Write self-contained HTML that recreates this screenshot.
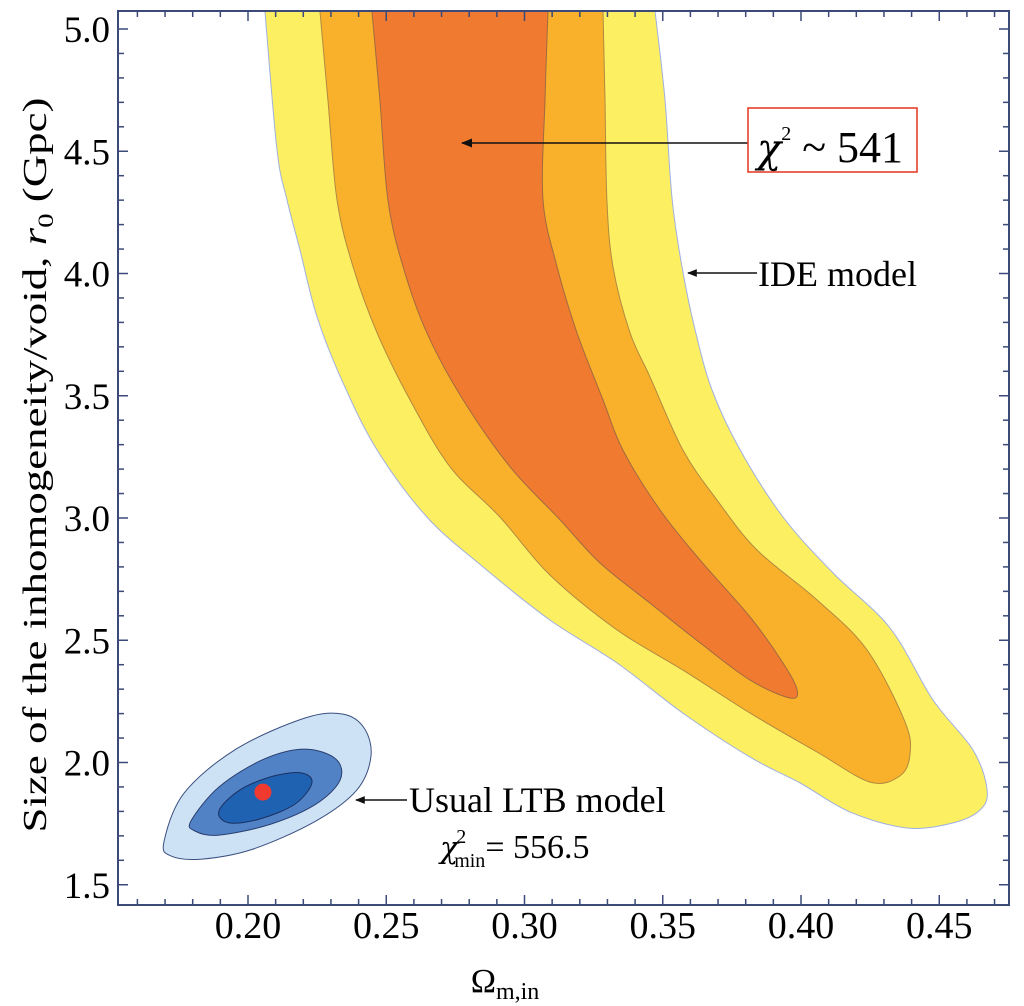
<!DOCTYPE html>
<html><head><meta charset="utf-8">
<style>
html,body{margin:0;padding:0;background:#fff;}
svg{display:block;font-family:"Liberation Serif",serif;}
.gk{font-family:"DejaVu Serif",serif;font-style:italic;}
</style></head>
<body>
<svg id="chart" width="1024" height="1006" viewBox="0 0 1024 1006" xmlns="http://www.w3.org/2000/svg">
<defs>
<marker id="ah" viewBox="0 0 10 10" refX="9" refY="5" markerWidth="7" markerHeight="7" orient="auto-start-reverse"><path d="M0,1 L10,5 L0,9 z" fill="#111"/></marker>
</defs>
<g id="contours"></g>
<g id="axes"></g>
<g>
<line x1="748" y1="143" x2="462" y2="143" stroke="#111" stroke-width="1.6" marker-end="url(#ah)"/>
<rect x="748" y="108" width="169" height="64" fill="#fff" stroke="#e8402e" stroke-width="1.6"/>
<text x="757" y="162" font-size="44"><tspan class="gk" font-size="40">χ</tspan><tspan font-size="20" dy="-22">2</tspan><tspan dy="22"> ~ 541</tspan></text>
<line x1="757" y1="273" x2="688" y2="273" stroke="#111" stroke-width="1.4" marker-end="url(#ah)"/>
<text x="758" y="286" font-size="36">IDE model</text>
<line x1="407" y1="800" x2="356" y2="800" stroke="#111" stroke-width="1.4" marker-end="url(#ah)"/>
<text x="409" y="812" font-size="36">Usual LTB model</text>
<text x="440" y="858" font-size="34"><tspan class="gk" font-size="30">χ</tspan><tspan font-size="20" dx="-2" dy="-15">2</tspan><tspan font-size="20" dx="-12" dy="24">min</tspan><tspan dy="-9">= 556.5</tspan></text>
</g>
<text x="505" y="992" font-size="34" text-anchor="middle">Ω<tspan font-size="24" dy="7">m,in</tspan></text>
<text transform="translate(46,465) rotate(-90)" font-size="34" text-anchor="middle" textLength="735" lengthAdjust="spacingAndGlyphs">Size of the inhomogeneity/void, <tspan font-style="italic">r</tspan><tspan font-size="22" dy="7">0</tspan><tspan dy="-7"> (Gpc)</tspan></text>
</svg>
<script>
const xTicks=[0.20,0.25,0.30,0.35,0.40,0.45];
const xTickLabels=["0.20","0.25","0.30","0.35","0.40","0.45"];
const yTicks=[1.5,2.0,2.5,3.0,3.5,4.0,4.5,5.0];
const yTickLabels=["1.5","2.0","2.5","3.0","3.5","4.0","4.5","5.0"];
const ideOuterOmega=[0.2061,0.2105,0.2141,0.2188,0.2250,0.2344,0.2467,0.2647,0.2850,0.3092,0.3335,0.3573,0.3816,0.3997,0.4177,0.4384,0.4550,0.4648,0.4673,0.4622,0.4477,0.4322,0.4116,0.3935,0.3780,0.3678,0.3617,0.3573,0.3534,0.3508,0.3472];
const ideOuterR=[5.074,4.505,4.301,4.096,3.822,3.552,3.278,3.004,2.800,2.583,2.407,2.202,2.022,1.916,1.798,1.732,1.753,1.806,1.888,2.051,2.256,2.550,2.775,3.004,3.278,3.524,3.769,4.006,4.301,4.710,5.074];
const ideMidOmega=[0.2260,0.2289,0.2322,0.2380,0.2467,0.2586,0.2731,0.2911,0.3092,0.3335,0.3573,0.3816,0.4058,0.4250,0.4358,0.4394,0.4376,0.4239,0.4058,0.3841,0.3696,0.3573,0.3454,0.3382,0.3320,0.3298,0.3291,0.3284];
const ideMidR=[5.074,4.710,4.301,4.027,3.757,3.483,3.209,3.004,2.767,2.542,2.378,2.202,2.043,1.920,1.945,2.031,2.166,2.460,2.665,2.869,3.074,3.278,3.577,3.757,4.027,4.301,4.710,5.074];
const ideInnerOmega=[0.2448,0.2477,0.2506,0.2561,0.2647,0.2778,0.2948,0.3129,0.3273,0.3454,0.3635,0.3816,0.3960,0.3986,0.3935,0.3816,0.3635,0.3490,0.3356,0.3284,0.3190,0.3118,0.3067,0.3074,0.3085];
const ideInnerR=[5.074,4.710,4.301,4.027,3.757,3.483,3.209,2.992,2.816,2.652,2.489,2.337,2.264,2.297,2.407,2.595,2.828,3.033,3.278,3.483,3.757,4.027,4.301,4.710,5.074];
const ltbOuterOmega=[0.1696,0.1769,0.1957,0.2206,0.2344,0.2420,0.2445,0.2394,0.2246,0.2018,0.1834,0.1721];
const ltbOuterR=[1.675,1.875,2.055,2.182,2.198,2.141,2.027,1.888,1.761,1.646,1.605,1.618];
const ltbMidOmega=[0.1794,0.1895,0.2058,0.2206,0.2318,0.2333,0.2246,0.2083,0.1895,0.1808];
const ltbMidR=[1.761,1.900,2.014,2.055,2.014,1.928,1.830,1.748,1.703,1.720];
const ltbInnerOmega=[0.1895,0.1971,0.2094,0.2195,0.2231,0.2170,0.2043,0.1931];
const ltbInnerR=[1.802,1.888,1.945,1.957,1.916,1.830,1.769,1.753];
const bestFitOmega=[0.2054];
const bestFitR=[1.879];

const L=118,R=1009,T=11,B=905;
function sx(v){return 248+(v-0.20)*2765;}
function sy(v){return 29+(5.0-v)*244.5;}
const NS="http://www.w3.org/2000/svg";
const svg=document.getElementById('chart');
const cg=document.getElementById('contours');
const ag=document.getElementById('axes');

function smoothPath(xs,ys,open){
  const p=xs.map((x,i)=>[sx(x),sy(ys[i])]);
  const n=p.length;
  let d="M"+p[0][0].toFixed(1)+","+p[0][1].toFixed(1);
  const last=open?n-1:n;
  for(let i=0;i<last;i++){
    const p0=p[(i-1+n)%n],p1=p[i],p2=p[(i+1)%n],p3=p[(i+2)%n];
    const a0=(open&&i===0)?p1:p0;
    const a3=(open&&i+2>=n)?p2:p3;
    const c1=[p1[0]+(p2[0]-a0[0])/6,p1[1]+(p2[1]-a0[1])/6];
    const c2=[p2[0]-(a3[0]-p1[0])/6,p2[1]-(a3[1]-p1[1])/6];
    d+=" C"+c1[0].toFixed(1)+","+c1[1].toFixed(1)+" "+c2[0].toFixed(1)+","+c2[1].toFixed(1)+" "+p2[0].toFixed(1)+","+p2[1].toFixed(1);
  }
  return d+" Z";
}
const clip=document.createElementNS(NS,'clipPath');clip.id='plotclip';
const cr=document.createElementNS(NS,'rect');cr.setAttribute('x',L);cr.setAttribute('y',T);cr.setAttribute('width',R-L);cr.setAttribute('height',B-T);
clip.appendChild(cr);svg.querySelector('defs').appendChild(clip);
cg.setAttribute('clip-path','url(#plotclip)');

function contour(xs,ys,fill,stroke,name,open){
  const p=document.createElementNS(NS,'path');
  p.setAttribute('d',smoothPath(xs,ys,open));
  p.setAttribute('fill',fill);p.setAttribute('stroke',stroke);p.setAttribute('stroke-width','1');
  
  
  cg.appendChild(p);
}
contour(ideOuterOmega,ideOuterR,'#fdef62','#9fb0e0','ide-contour-3sigma',true);
contour(ideMidOmega,ideMidR,'#f9b12c','#b08a40','ide-contour-2sigma',true);
contour(ideInnerOmega,ideInnerR,'#f07b30','#a06a40','ide-contour-1sigma',true);
contour(ltbOuterOmega,ltbOuterR,'#cde2f4','#3a4f80','ltb-contour-3sigma',false);
contour(ltbMidOmega,ltbMidR,'#5282c6','#2a3f70','ltb-contour-2sigma',false);
contour(ltbInnerOmega,ltbInnerR,'#1f62b2','#1a3060','ltb-contour-1sigma',false);
bestFitOmega.forEach((v,i)=>{
  const c=document.createElementNS(NS,'circle');
  c.setAttribute('cx',sx(v));c.setAttribute('cy',sy(bestFitR[i]));c.setAttribute('r','8.5');c.setAttribute('fill','#f03a30');
  
  
  cg.appendChild(c);
});

function ln(x1,y1,x2,y2,w){const l=document.createElementNS(NS,'line');l.setAttribute('x1',x1);l.setAttribute('y1',y1);l.setAttribute('x2',x2);l.setAttribute('y2',y2);l.setAttribute('stroke','#3b4a78');l.setAttribute('stroke-width',w);ag.appendChild(l);return l;}
const frame=document.createElementNS(NS,'rect');
frame.setAttribute('x',L);frame.setAttribute('y',T);frame.setAttribute('width',R-L);frame.setAttribute('height',B-T);
frame.setAttribute('fill','none');frame.setAttribute('stroke','#3b4a78');frame.setAttribute('stroke-width','2');


ag.appendChild(frame);
for(let k=16;k<=47;k++){
  const v=k/100,x=sx(v),maj=(k%5===0),len=maj?10:6;
  ln(x,B,x,B-len,1.5);ln(x,T,x,T+len,1.5);
}
for(let k=15;k<=50;k++){
  const v=k/10,y=sy(v),maj=(k%5===0),len=maj?10:6;
  ln(L,y,L+len,y,1.5);ln(R,y,R-len,y,1.5);
}
xTicks.forEach((v,i)=>{
  const t=document.createElementNS(NS,'text');
  t.setAttribute('x',sx(v));t.setAttribute('y',938);t.setAttribute('font-size','38');t.setAttribute('text-anchor','middle');
  t.textContent=xTickLabels[i];
  
  
  svg.appendChild(t);
});
yTicks.forEach((v,i)=>{
  const t=document.createElementNS(NS,'text');
  t.setAttribute('x',L-8);t.setAttribute('y',sy(v)+13);t.setAttribute('font-size','37');t.setAttribute('text-anchor','end');
  t.textContent=yTickLabels[i];
  
  
  svg.appendChild(t);
});
</script>
</body></html>
